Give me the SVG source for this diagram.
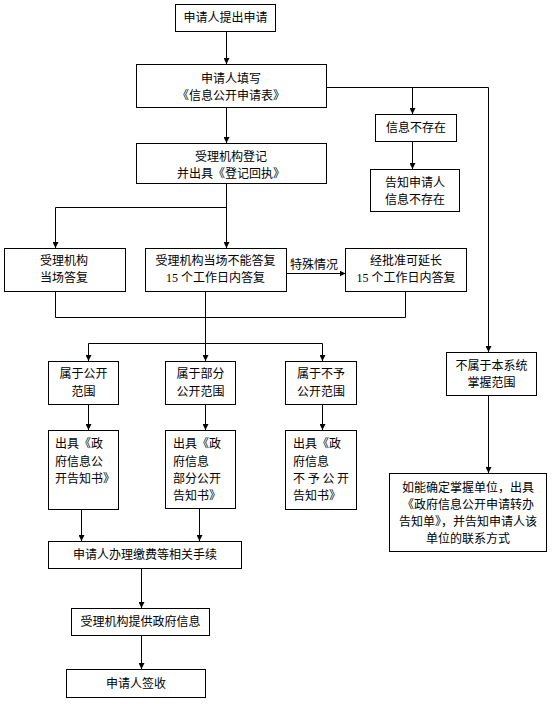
<svg xmlns="http://www.w3.org/2000/svg" width="555" height="704" viewBox="0 0 555 704">
<defs>
<marker id="ah" viewBox="0 0 10 10" refX="10" refY="5" markerWidth="6" markerHeight="6" orient="auto" markerUnits="userSpaceOnUse">
<path d="M0,0 L10,5 L0,10 z" fill="#000"/>
</marker>
<style>
rect{fill:#fff;stroke:#000;stroke-width:1}
text{font-family:"Noto Sans CJK SC","Liberation Sans",sans-serif;font-size:12px;fill:#000}
.c{text-anchor:middle}
.n{font-family:"Liberation Serif",serif}
.l{fill:none;stroke:#000;stroke-width:1}
.a{fill:none;stroke:#000;stroke-width:1;marker-end:url(#ah)}
</style>
</defs>
<rect width="555" height="704" style="fill:#fff;stroke:none"/>
<g id="connectors">
<path class="a" d="M226.5,31 V64"/>
<path class="a" d="M226.5,108 V143"/>
<path class="l" d="M326,87.5 H488.5"/>
<path class="a" d="M412.5,87.5 V114"/>
<path class="a" d="M412.5,141 V169"/>
<path class="a" d="M488.5,87.5 V352"/>
<path class="a" d="M488.5,395 V473"/>
<path class="a" d="M226.5,183 V248"/>
<path class="a" d="M226.5,207.5 H55.5 V248"/>
<path class="a" d="M286,273.5 H345.5"/>
<path class="l" d="M55.5,291 V317.5 H405.5 V291"/>
<path class="l" d="M205.5,291 V343.5"/>
<path class="a" d="M205.5,343.5 V361"/>
<path class="a" d="M205.5,343.5 H88.5 V361"/>
<path class="a" d="M205.5,343.5 H322.5 V361"/>
<path class="a" d="M88.5,404 V430"/>
<path class="a" d="M205.5,404 V430"/>
<path class="a" d="M322.5,404 V430"/>
<path class="a" d="M81.5,509 V541"/>
<path class="a" d="M199.5,508 V541"/>
<path class="a" d="M141.5,568 V608"/>
<path class="a" d="M141.5,635 V669"/>
<text x="290" y="269">特殊情况</text>
</g>
<g id="n1"><rect x="175.5" y="4.5" width="100" height="27"/><text class="c" x="225.5" y="22">申请人提出申请</text></g>
<g id="n2"><rect x="136.5" y="64.5" width="190" height="43"/><text class="c" x="231" y="83">申请人填写</text><text class="c" x="231" y="100">《信息公开申请表》</text></g>
<g id="n3"><rect x="375.5" y="114.5" width="81" height="27"/><text class="c" x="416" y="132">信息不存在</text></g>
<g id="n4"><rect x="370.5" y="169.5" width="89" height="42"/><text class="c" x="415" y="187">告知申请人</text><text class="c" x="415" y="204">信息不存在</text></g>
<g id="n5"><rect x="136.5" y="143.5" width="190" height="40"/><text class="c" x="231" y="161">受理机构登记</text><text class="c" x="231" y="178">并出具《登记回执》</text></g>
<g id="n6"><rect x="4.5" y="248.5" width="121" height="43"/><text class="c" x="64" y="265">受理机构</text><text class="c" x="64" y="282">当场答复</text></g>
<g id="n7"><rect x="145.5" y="248.5" width="141" height="43"/><text class="c" x="215.5" y="265">受理机构当场不能答复</text><text class="c" x="215.5" y="282"><tspan class="n">15 </tspan>个工作日内答复</text></g>
<g id="n8"><rect x="345.5" y="248.5" width="121" height="43"/><text class="c" x="406" y="265">经批准可延长</text><text class="c" x="406" y="282"><tspan class="n">15 </tspan>个工作日内答复</text></g>
<g id="n9"><rect x="48.5" y="361.5" width="70" height="43"/><text class="c" x="83.5" y="378">属于公开</text><text class="c" x="83.5" y="396">范围</text></g>
<g id="n10"><rect x="165.5" y="361.5" width="70" height="43"/><text class="c" x="200.5" y="378">属于部分</text><text class="c" x="200.5" y="396">公开范围</text></g>
<g id="n11"><rect x="285.5" y="361.5" width="71" height="43"/><text class="c" x="321" y="378">属于不予</text><text class="c" x="321" y="396">公开范围</text></g>
<g id="n12"><rect x="446.5" y="352.5" width="90" height="43"/><text class="c" x="491.5" y="370">不属于本系统</text><text class="c" x="491.5" y="387">掌握范围</text></g>
<g id="n13"><rect x="48.5" y="430.5" width="70" height="79"/><text x="55" y="448">出具《政</text><text x="55" y="466">府信息公</text><text x="55" y="483">开告知书》</text></g>
<g id="n14"><rect x="165.5" y="430.5" width="70" height="78"/><text x="173" y="448">出具《政</text><text x="173" y="466">府信息</text><text x="173" y="483">部分公开</text><text x="173" y="500">告知书》</text></g>
<g id="n15"><rect x="285.5" y="430.5" width="71" height="79"/><text x="293" y="448">出具《政</text><text x="293" y="466">府信息</text><text x="293" y="483" xml:space="preserve">不 予 公 开</text><text x="293" y="500">告知书》</text></g>
<g id="n16"><rect x="389.5" y="473.5" width="157" height="78"/><text class="c" x="468" y="492">如能确定掌握单位，出具</text><text class="c" x="468" y="509">《政府信息公开申请转办</text><text class="c" x="468" y="526">告知单》，并告知申请人该</text><text class="c" x="468" y="543">单位的联系方式</text></g>
<g id="n17"><rect x="48.5" y="541.5" width="193" height="27"/><text class="c" x="145" y="559">申请人办理缴费等相关手续</text></g>
<g id="n18"><rect x="71.5" y="608.5" width="138" height="27"/><text class="c" x="140.5" y="626">受理机构提供政府信息</text></g>
<g id="n19"><rect x="66.5" y="669.5" width="139" height="28"/><text class="c" x="136" y="688">申请人签收</text></g>
</svg>
